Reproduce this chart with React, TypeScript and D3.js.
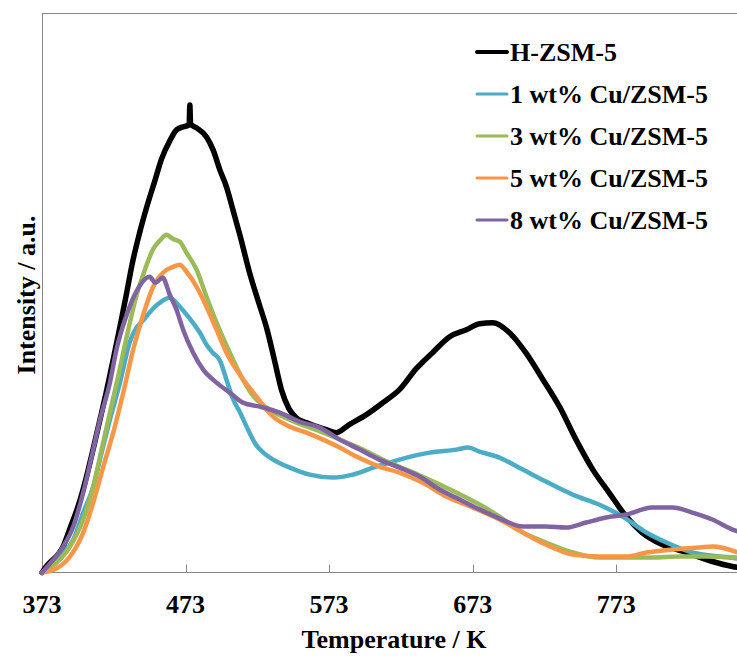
import React from "react";
import * as d3 from "d3";

// ---------- data ----------
const seriesNames = ["H-ZSM-5", "1 wt% Cu/ZSM-5", "3 wt% Cu/ZSM-5", "5 wt% Cu/ZSM-5", "8 wt% Cu/ZSM-5"];
const seriesColors = ["#000000", "#4BACC6", "#9BBB59", "#F79646", "#8064A2"];
const xTicks = [373, 473, 573, 673, 773];

// [temperature K, intensity a.u.]
const hzsm5: [number, number][] = [
  [373, 0], [376, 6], [388, 27], [392.5, 44], [399.4, 72], [404, 96], [408.7, 124], [413.4, 153],
  [418, 182], [422.6, 213], [427.3, 246], [432, 280], [436, 310], [441, 340], [446, 366], [451.6, 392],
  [456.3, 414], [462, 432], [466.7, 443], [471.3, 446], [475.5, 448], [476, 468], [476.5, 449],
  [480.7, 445], [487.6, 436], [492.2, 423], [496.9, 403], [501.5, 386], [506, 363], [510.8, 338],
  [518, 298], [524, 270], [530, 242], [535, 212], [540, 182], [545, 164], [550, 155], [557, 150],
  [571, 143], [578, 140], [587, 148], [599, 158], [610.5, 170], [622, 183], [633.7, 204], [645, 220],
  [657, 236], [668.6, 243], [677.8, 249], [687, 250], [698.7, 240], [710, 220], [722, 193],
  [733.5, 166], [745, 133], [756.7, 103], [768, 80], [780, 56], [791, 40], [805, 28], [822, 20],
  [840, 11], [854, 6], [858, 5],
];

const cu1: [number, number][] = [
  [373, 0], [380, 8], [387, 18], [394.8, 33], [401.7, 60], [408.7, 86], [414.5, 120], [420.3, 153],
  [427.3, 190], [434, 230], [445, 255], [455, 270], [462, 275], [469, 266], [476, 254], [483, 240],
  [487.6, 228], [492, 220], [497, 212], [501.5, 193], [506, 174], [511, 160], [515.5, 146],
  [522, 128], [528, 119], [534, 113], [545.6, 105], [559.5, 98], [575.7, 95], [589.6, 98],
  [603.5, 105], [615, 110], [627, 115], [643, 120], [661.6, 123], [670, 125], [677.8, 121],
  [691.7, 115], [707.9, 103], [724, 91], [742.7, 78], [761, 68], [777.5, 56], [794, 40], [808, 30],
  [826, 20], [845, 16], [858, 14],
];

const cu3: [number, number][] = [
  [373, 0], [380, 6], [392.5, 26], [401.7, 53], [408.7, 86], [414.5, 123], [420.3, 160], [426, 196],
  [432, 236], [439, 278], [444.7, 303], [450.5, 324], [455, 332], [459.8, 338], [464, 334],
  [469, 331], [473.7, 320], [480.7, 303], [487.6, 276], [494.6, 250], [503.8, 220], [513, 193],
  [520, 177], [529.4, 165], [545.6, 153], [568.8, 140], [592, 126], [615, 110], [638, 96],
  [661.6, 80], [677.8, 68], [691.7, 56], [708, 40], [724, 30], [742.7, 20], [761, 15], [780, 15],
  [798, 15], [817, 16], [835, 16], [858, 15],
];

const cu5: [number, number][] = [
  [373, 0], [383, 4], [392.5, 16], [401.7, 40], [408.7, 70], [415.7, 106], [422.6, 140], [429.6, 180],
  [436.5, 223], [443.5, 258], [450.5, 286], [459.8, 303], [464.4, 306], [469, 308], [473.7, 301],
  [480.7, 286], [487.6, 266], [494.6, 243], [501.5, 220], [510.8, 198], [522.4, 176], [534, 156],
  [545.6, 146], [557.2, 140], [568.8, 133], [580.4, 125], [592, 116], [608, 106], [622, 100],
  [638, 90], [654.6, 76], [673, 65], [691.7, 53], [708, 40], [724, 28], [742.7, 18], [761, 16],
  [780, 16], [794, 20], [812, 23], [831, 25], [840, 26], [858, 20],
];

const cu8: [number, number][] = [
  [373, 0], [378, 8], [387.8, 26], [394.8, 46], [401.7, 80], [407.6, 116], [413.4, 153], [420.3, 190],
  [425, 224], [432, 258], [439, 282], [448, 296], [452, 290], [457, 295], [462, 278], [466.7, 263],
  [471.3, 243], [478.3, 220], [485.3, 203], [494.6, 190], [503.8, 180], [513, 170], [524.7, 166],
  [538.6, 160], [552.5, 151], [566.5, 145], [580.4, 133], [594.3, 123], [608, 113], [622, 105],
  [636, 96], [650, 83], [664, 73], [678, 63], [692, 54], [708, 46], [724, 46], [738, 45], [752, 50],
  [766, 55], [780, 58], [798, 65], [812, 65], [826, 60], [840, 53], [854, 43], [858, 41],
];

const allSeries = [hzsm5, cu1, cu3, cu5, cu8];

// ---------- layout ----------
const W = 737;
const H = 657;
const left = 42;
const top = 13;
const bottom = 572.5;
const font = "'Liberation Serif', 'Times New Roman', serif";
const axisGray = "#868686";

export default function App() {
  const x = d3.scaleLinear().domain([373, 873]).range([left, left + 500 * 1.4355]);
  const y = d3.scaleLinear().domain([0, 560]).range([bottom, top]);
  const line = d3
    .line<[number, number]>()
    .x((d) => x(d[0]))
    .y((d) => y(d[1]))
    .curve(d3.curveMonotoneX);

  const legendX0 = 477;
  const legendX1 = 507;
  const legendBase = 61;
  const legendStep = 42;

  return (
    <svg
      width={W}
      height={H}
      style={{ position: "absolute", left: 0, top: 0, background: "#fff" }}
      fontFamily={font}
    >
      <rect x={0} y={0} width={W} height={H} fill="#fff" />
      {/* plot frame */}
      <line x1={left + 0.5} x2={W + 10} y1={top + 0.5} y2={top + 0.5} stroke={axisGray} strokeWidth={1} />
      <line x1={left + 0.5} x2={left + 0.5} y1={top} y2={bottom} stroke={axisGray} strokeWidth={1} />
      <line x1={left} x2={W + 10} y1={bottom} y2={bottom} stroke={axisGray} strokeWidth={1.2} />
      {xTicks.map((t) => (
        <g key={t}>
          {t !== 373 && (
            <line x1={Math.round(x(t)) + 0.5} x2={Math.round(x(t)) + 0.5} y1={bottom - 8} y2={bottom} stroke={axisGray} strokeWidth={1} />
          )}
          <text x={x(t)} y={613} textAnchor="middle" fontSize={26} fontWeight="bold" fill="#000">
            {t}
          </text>
        </g>
      ))}
      <text x={394} y={648} textAnchor="middle" fontSize={26} fontWeight="bold" fill="#000">
        Temperature / K
      </text>
      <text
        transform="translate(34.5,295) rotate(-90)"
        textAnchor="middle"
        fontSize={26}
        fontWeight="bold"
        fill="#000"
      >
        Intensity / a.u.
      </text>

      {/* series */}
      <g strokeLinejoin="round" strokeLinecap="round" fill="none">
        {allSeries.map((s, i) => (
          <path key={i} d={line(s) || ""} stroke={seriesColors[i]} strokeWidth={i === 0 ? 5.5 : 4.5} />
        ))}
      </g>

      {/* legend */}
      {seriesNames.map((n, i) => (
        <g key={n}>
          <line
            x1={legendX0}
            x2={legendX1}
            y1={legendBase + i * legendStep - 9}
            y2={legendBase + i * legendStep - 9}
            stroke={seriesColors[i]}
            strokeWidth={i === 0 ? 4 : 3}
            strokeLinecap="round"
          />
          <text x={510} y={legendBase + i * legendStep} fontSize={26} fontWeight="bold" fill="#000">
            {n}
          </text>
        </g>
      ))}
    </svg>
  );
}
